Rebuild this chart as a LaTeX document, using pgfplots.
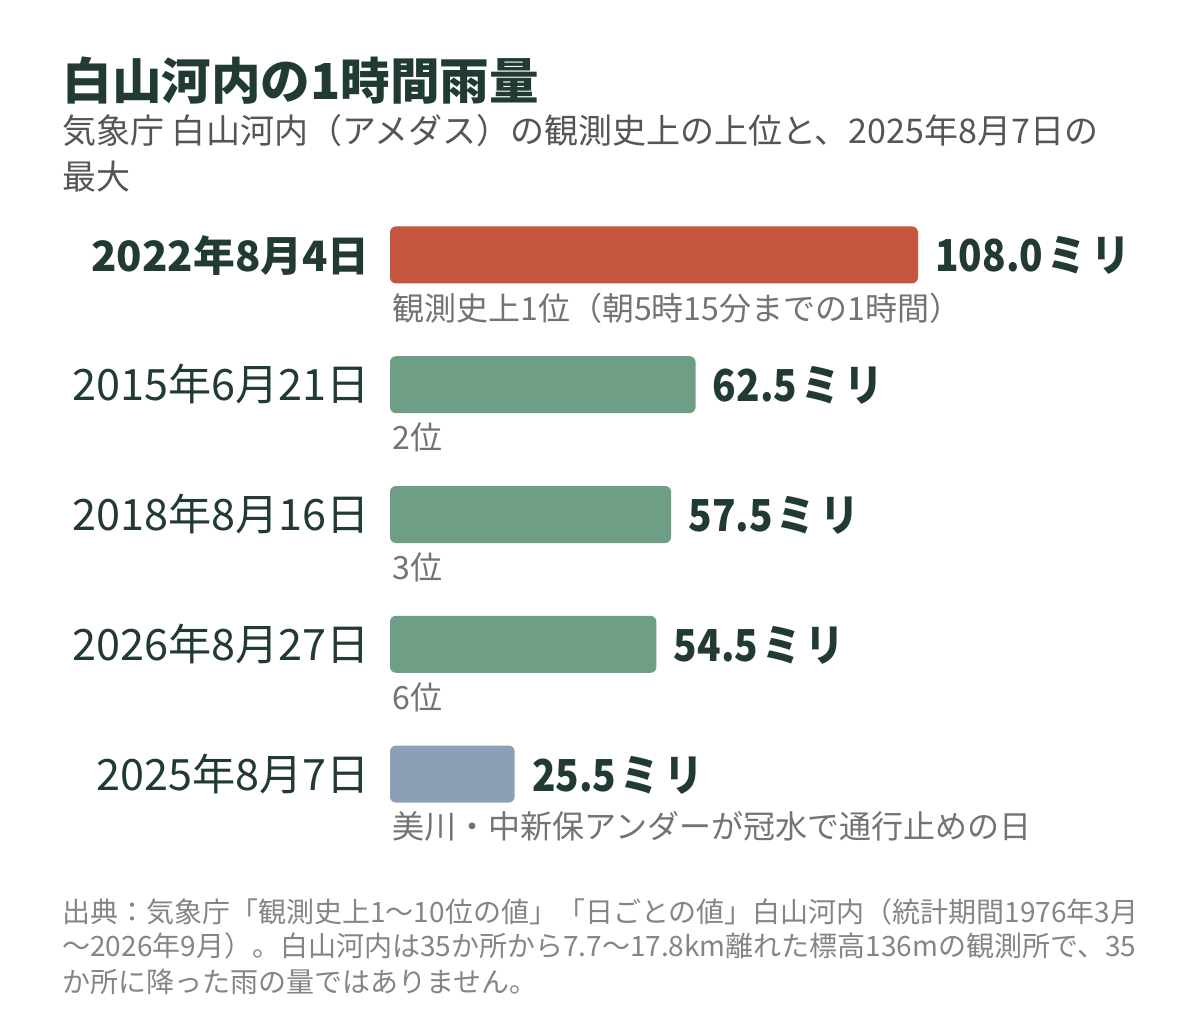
\documentclass[border=0pt]{standalone}
\usepackage{fontspec}
\setmainfont{Noto Sans CJK JP}
\newfontfamily\condfont{Noto Sans CJK JP}[FakeStretch=0.88]
\usepackage{pgfplots}
\pgfplotsset{compat=1.18}
\definecolor{txt}{HTML}{213A33}
\definecolor{redbar}{HTML}{C4553E}
\definecolor{greenbar}{HTML}{6E9E86}
\definecolor{bluebar}{HTML}{8B9FB6}
\definecolor{subc}{HTML}{555555}
\definecolor{notec}{HTML}{737373}
\definecolor{footc}{HTML}{858585}
\begin{document}
\begin{tikzpicture}
\useasboundingbox (0,0) rectangle (600pt,517pt);
\fill[white] (0,0) rectangle (600pt,517pt);
\begin{axis}[
  at={(195pt,97.5pt)}, anchor=south west, scale only axis,
  width=264pt, height=324.5pt,
  xmin=0, xmax=108, ymin=-0.5, ymax=4.5,
  axis lines=none, ticks=none, clip=false,
  xbar, bar width=28.5pt, bar shift=0pt,
  point meta=x,
  /pgf/number format/assume math mode=true,
  nodes near coords={\pgfmathprintnumber[fixed,fixed zerofill,precision=1,assume math mode=true]{\pgfplotspointmeta}\kern2ptミ\kern2.5ptリ},
  every node near coord/.style={anchor=base west, inner sep=0pt, xshift=8.5pt, yshift=-8.5pt, font=\condfont\bfseries\fontsize{22}{22}\selectfont, text=txt},
]
\addplot[fill=redbar, draw=none, rounded corners=3pt] coordinates {(108.0,4)};
\addplot[fill=greenbar, draw=none, rounded corners=3pt] coordinates {(62.5,3) (57.5,2) (54.5,1)};
\addplot[fill=bluebar, draw=none, rounded corners=3pt] coordinates {(25.5,0)};
\end{axis}
\begin{scope}[x=0.5pt,y=-0.5pt,shift={(0,517pt)}]
% title and subtitle
\node[anchor=base west, inner sep=0pt, font=\bfseries\fontsize{24.8}{24.8}\selectfont, text=txt] at (62,100) {白山河内の1時間雨量};
\node[anchor=base west, inner sep=0pt, font=\fontsize{17}{17}\selectfont, text=subc] at (62,144) {気象庁 白山河内（アメダス）の観測史上の上位と、2025年8月7日の};
\node[anchor=base west, inner sep=0pt, font=\fontsize{17}{17}\selectfont, text=subc] at (62,190) {最大};
% date labels
\node[anchor=base east, inner sep=0pt, font=\bfseries\fontsize{20.9}{20.9}\selectfont, text=txt] at (370,272) {2022年8月4日};
\node[anchor=base east, inner sep=0pt, font=\fontsize{21.6}{21.6}\selectfont, text=txt] at (370,401) {2015年6月21日};
\node[anchor=base east, inner sep=0pt, font=\fontsize{21.6}{21.6}\selectfont, text=txt] at (370,531) {2018年8月16日};
\node[anchor=base east, inner sep=0pt, font=\fontsize{21.6}{21.6}\selectfont, text=txt] at (370,661) {2026年8月27日};
\node[anchor=base east, inner sep=0pt, font=\fontsize{21.6}{21.6}\selectfont, text=txt] at (370,791) {2025年8月7日};
% sub labels
\begin{scope}[every node/.style={anchor=base west, inner sep=0pt, font=\fontsize{16}{16}\selectfont, text=notec}]
\node at (392,321) {観測史上1位（朝5時15分までの1時間）};
\node at (392,450) {2位};
\node at (392,580) {3位};
\node at (392,710) {6位};
\node at (392,839) {美川・中新保アンダーが冠水で通行止めの日};
\end{scope}
% footer
\begin{scope}[every node/.style={anchor=base west, inner sep=0pt, font=\fontsize{14}{14}\selectfont, text=footc}]
\node at (62,922) {出典：気象庁「観測史上1～10位の値」「日ごとの値」白山河内（統計期間1976年3月};
\node at (62,957) {～2026年9月）。白山河内は35か所から7.7～17.8km離れた標高136mの観測所で、35};
\node at (62,993) {か所に降った雨の量ではありません。};
\end{scope}
\end{scope}
\end{tikzpicture}
\end{document}
